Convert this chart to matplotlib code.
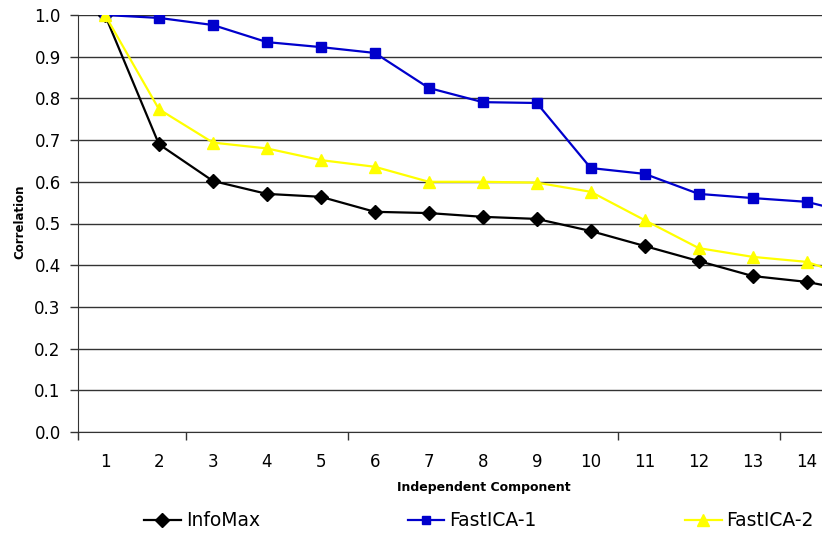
import numpy as np
import matplotlib
matplotlib.use('Agg')
import matplotlib.pyplot as plt
from matplotlib.ticker import FixedLocator

# ── Data ─────────────────────────────────────────────────────────────────────
components = list(range(1, 16))   # the 15th point is cut off by the right edge
infomax   = [1.000, 0.690, 0.602, 0.571, 0.564, 0.528, 0.525, 0.516, 0.511,
             0.482, 0.446, 0.410, 0.374, 0.360, 0.335]
fastica_1 = [1.000, 0.993, 0.976, 0.935, 0.923, 0.909, 0.825, 0.791, 0.789,
             0.633, 0.619, 0.571, 0.561, 0.552, 0.520]
fastica_2 = [1.000, 0.774, 0.694, 0.680, 0.652, 0.636, 0.600, 0.600, 0.598,
             0.576, 0.508, 0.441, 0.420, 0.408, 0.365]
x_labels  = [str(i) for i in range(1, 15)]
y_ticks   = [0.0, 0.1, 0.2, 0.3, 0.4, 0.5, 0.6, 0.7, 0.8, 0.9, 1.0]

COLOUR_INFOMAX = '#000000'
COLOUR_FAST1   = '#0000CC'
COLOUR_FAST2   = '#FFFF00'

W, H = 822, 537
fig = plt.figure(figsize=(W / 100, H / 100), dpi=100)
fig.patch.set_facecolor('white')

# axes box in pixels: left 78, top 15, bottom 432, right runs past the crop
ax = fig.add_axes([78 / W, 1 - 432 / H, 1 - 78 / W + 0.001, (432 - 15) / H])

ax.plot(components, infomax, color=COLOUR_INFOMAX, lw=1.6, marker='D', ms=7.5,
        mec=COLOUR_INFOMAX, label='InfoMax')
ax.plot(components, fastica_1, color=COLOUR_FAST1, lw=1.6, marker='s', ms=7,
        mec=COLOUR_FAST1, label='FastICA-1')
ax.plot(components, fastica_2, color=COLOUR_FAST2, lw=1.6, marker='^', ms=9,
        mec=COLOUR_FAST2, label='FastICA-2')

ax.set_xlim(0.5, 14.3)
ax.set_ylim(0.0, 1.0)

# horizontal gridlines
for v in y_ticks:
    ax.axhline(v, color='#333333', lw=1.0, zorder=0)

ax.set_yticks(y_ticks)
ax.set_yticklabels([f'{v:.1f}' for v in y_ticks], fontsize=12)
ax.tick_params(axis='y', direction='out', length=6, width=1, pad=6.5,
               color='#333333')

# category labels without tick marks; the few visible marks sit between categories
ax.set_xticks(range(1, 15))
ax.set_xticklabels(x_labels, fontsize=12)
ax.tick_params(axis='x', which='major', length=0, pad=15)
ax.xaxis.set_minor_locator(FixedLocator([0.5, 2.5, 5.5, 10.5, 13.5]))
ax.tick_params(axis='x', which='minor', direction='out', length=6, width=1,
               color='#333333')

for side in ('top', 'right'):
    ax.spines[side].set_visible(False)
ax.spines['left'].set_color('#333333')
ax.spines['bottom'].set_color('#333333')

fig.text(20 / W, 1 - 222 / H, 'Correlation', rotation=90, fontsize=8.5,
         fontweight='bold', ha='center', va='center')
fig.text(484 / W, 1 - 488 / H, 'Independent Component', fontsize=9,
         fontweight='bold', ha='center', va='center')

handles, labels = ax.get_legend_handles_labels()
fig.legend(handles, labels, ncol=3, frameon=False, fontsize=13.5,
           loc='center', bbox_to_anchor=(479 / W, 1 - 521 / H),
           handlelength=1.95, handletextpad=0.27, columnspacing=7.9,
           borderaxespad=0, borderpad=0, markerscale=0.9)

plt.savefig('out.png', dpi=100, facecolor=fig.get_facecolor())
plt.close(fig)
